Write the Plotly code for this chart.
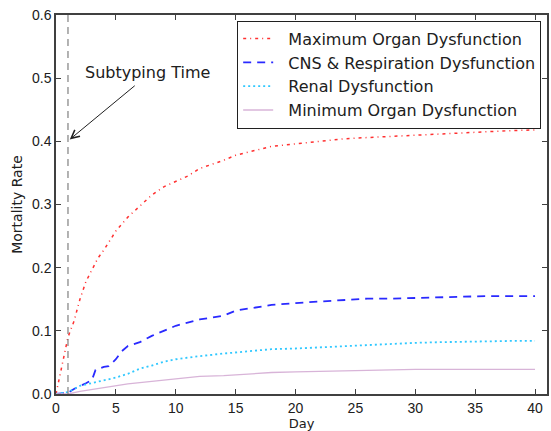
import plotly.graph_objects as go

# ---- data ----
red_x = [0, 0.5, 1, 1.5, 2, 2.5, 3, 3.5, 4, 5, 6, 7, 8, 9, 10, 11, 12, 13, 14, 15, 16, 17, 18, 19, 20, 22, 24, 26, 28, 30, 32, 34, 36, 38, 40]
red_y = [0, 0.045, 0.09, 0.115, 0.15, 0.178, 0.197, 0.215, 0.228, 0.258, 0.28, 0.298, 0.315, 0.328, 0.337, 0.345, 0.357, 0.363, 0.37, 0.378, 0.383, 0.387, 0.392, 0.394, 0.396, 0.4, 0.404, 0.406, 0.408, 0.41, 0.411, 0.413, 0.416, 0.417, 0.418]

blue_x = [0, 1, 1.5, 2, 2.5, 3, 3.3, 4, 4.4, 5, 5.5, 6, 7, 8, 9, 10, 11, 12, 13, 14, 15, 16, 17, 18, 20, 22, 24, 26, 28, 30, 32, 34, 36, 38, 40]
blue_y = [0, 0.002, 0.008, 0.012, 0.017, 0.022, 0.038, 0.043, 0.044, 0.055, 0.068, 0.076, 0.082, 0.092, 0.1, 0.108, 0.113, 0.118, 0.121, 0.124, 0.132, 0.135, 0.139, 0.141, 0.144, 0.146, 0.149, 0.151, 0.151, 0.152, 0.153, 0.155, 0.155, 0.155, 0.155]

cyan_x = [0, 1, 2, 3, 4, 5, 6, 7, 8, 9, 10, 11, 12, 14, 16, 18, 20, 22, 24, 26, 28, 30, 32, 34, 36, 38, 40]
cyan_y = [0, 0.003, 0.013, 0.017, 0.021, 0.026, 0.032, 0.04, 0.045, 0.051, 0.055, 0.058, 0.06, 0.064, 0.068, 0.071, 0.072, 0.074, 0.076, 0.078, 0.08, 0.081, 0.082, 0.083, 0.083, 0.084, 0.084]

pink_x = [0, 1, 2, 4, 6, 8, 10, 12, 14, 16, 18, 20, 25, 30, 35, 40]
pink_y = [0, 0, 0.004, 0.01, 0.016, 0.02, 0.024, 0.028, 0.029, 0.032, 0.034, 0.035, 0.037, 0.039, 0.039, 0.039]

series_names = ["Maximum Organ Dysfunction", "CNS & Respiration Dysfunction",
                "Renal Dysfunction", "Minimum Organ Dysfunction"]
subtyping_day = 1
x_ticks = [0, 5, 10, 15, 20, 25, 30, 35, 40]
y_ticks = [0, 0.1, 0.2, 0.3, 0.4, 0.5, 0.6]

FONT = "Liberation Sans, Arial, sans-serif"
WFONT = "DejaVu Sans, sans-serif"
TXT = "#202020"
PAD = "\u00a0\u00a0"

fig = go.Figure()
fig.add_trace(go.Scatter(x=red_x, y=red_y, mode="lines", name=PAD + series_names[0],
                         line=dict(color="#ff3030", width=1.5, dash="3px,4px,1px,4px")))
fig.add_trace(go.Scatter(x=blue_x, y=blue_y, mode="lines", name=PAD + series_names[1],
                         line=dict(color="#2a2aff", width=1.8, dash="8px,6px")))
fig.add_trace(go.Scatter(x=cyan_x, y=cyan_y, mode="lines", name=PAD + series_names[2],
                         line=dict(color="#30c8ff", width=1.8, dash="2px,3px")))
fig.add_trace(go.Scatter(x=pink_x, y=pink_y, mode="lines", name=PAD + series_names[3],
                         line=dict(color="#d8b4d8", width=1.3)))

fig.add_shape(type="line", x0=subtyping_day, x1=subtyping_day, y0=0, y1=0.6,
              xref="x", yref="y", line=dict(color="#808080", width=1.2, dash="7px,5px"))

fig.add_annotation(x=1.15, y=0.403, ax=6.7, ay=0.49, axref="x", ayref="y",
                   xref="x", yref="y", text="", showarrow=True,
                   arrowhead=5, arrowsize=1.6, arrowwidth=1, arrowcolor=TXT)
fig.add_annotation(x=7.6, y=0.509, xref="x", yref="y", text="Subtyping Time",
                   showarrow=False, font=dict(family=WFONT, size=16, color=TXT))

axis_common = dict(showline=True, linecolor="#404040", linewidth=1.5, mirror="ticks",
                   ticks="inside", ticklen=5, tickcolor="#404040", showgrid=False,
                   zeroline=False, tickfont=dict(family=FONT, size=14, color=TXT))

fig.update_xaxes(range=[0, 41], tickvals=x_ticks, **axis_common,
                 title=dict(text="Day", font=dict(family=WFONT, size=13, color=TXT), standoff=4))
fig.update_yaxes(range=[0, 0.6], tickvals=y_ticks, tickformat=".1f", **axis_common,
                 title=dict(text="Mortality Rate", font=dict(family=WFONT, size=14, color=TXT), standoff=6))

fig.update_layout(
    width=551, height=431,
    margin=dict(l=56, r=2, t=15, b=35),
    paper_bgcolor="white", plot_bgcolor="white",
    font=dict(family=FONT, color=TXT),
    legend=dict(x=0.369, y=0.985, xanchor="left", yanchor="top",
                bgcolor="white", bordercolor=TXT, borderwidth=1,
                font=dict(family=WFONT, size=16, color=TXT),
                tracegroupgap=0, itemwidth=30),
)

fig.write_html("out.html")
